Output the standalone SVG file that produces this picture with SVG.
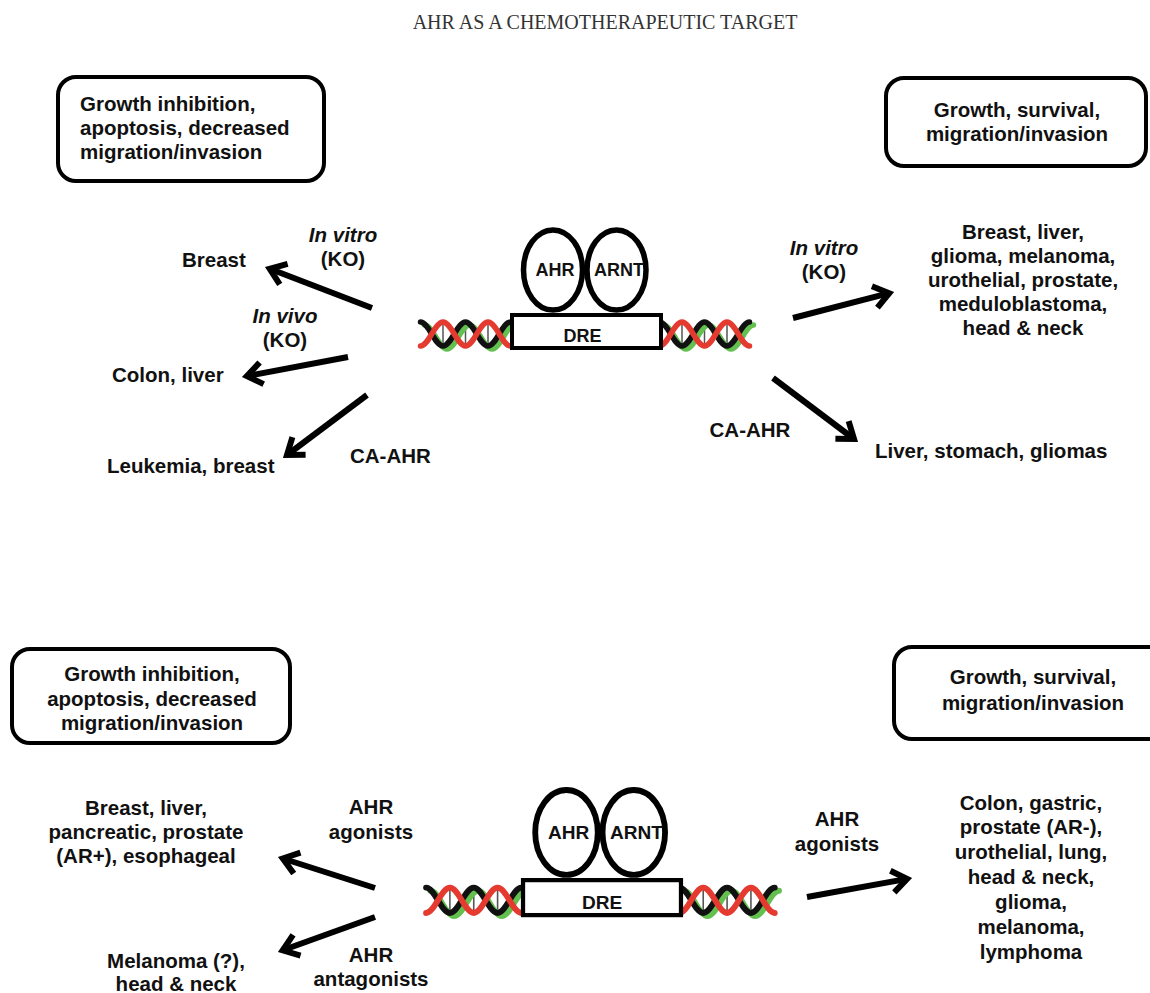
<svg xmlns="http://www.w3.org/2000/svg" xmlns:xlink="http://www.w3.org/1999/xlink" width="1150" height="993" viewBox="0 0 1150 993">
  <style>
    .title{font-family:"Liberation Serif","Times New Roman",serif;font-size:20px;fill:#333;text-anchor:middle}
    .t{font-family:"Liberation Sans",Arial,Helvetica,sans-serif;font-weight:bold;font-size:20.5px;fill:#111}
    .c{text-anchor:middle}
    .i{font-style:italic}
    .box{fill:#fff;stroke:#000;stroke-width:4}
    .prot{fill:#fff;stroke:#000;stroke-width:5.5}
    .dre{fill:#fff;stroke:#000;stroke-width:4}
    .pt{font-family:"Liberation Sans",Arial,Helvetica,sans-serif;font-weight:bold;font-size:18px;fill:#111;text-anchor:middle}
    .arr{stroke:#000;stroke-width:6;fill:none;marker-end:url(#head)}
    .s{fill:none;stroke-width:5.5;stroke-linecap:round}
    .blk{stroke:#111}
    .red{stroke:#e53a2f}
    .grn{stroke:#63c04f}
    .rung{stroke:#555;stroke-width:1.5}
  </style>
  <defs>
    <marker id="head" markerUnits="userSpaceOnUse" markerWidth="44" markerHeight="44" viewBox="-22 -22 44 44" refX="0" refY="0" orient="auto" overflow="visible">
      <path d="M-15,-11 L0,0 L-15,11" fill="none" stroke="#000" stroke-width="6" stroke-linejoin="miter" stroke-miterlimit="10"/>
    </marker>
    <!-- DNA double helix on both sides of the response element, in complex-local coordinates -->
    <g id="helix">
      <g class="rung">
        <line x1="-143.5" y1="11" x2="-143.5" y2="31"/>
        <line x1="-121" y1="11" x2="-121" y2="31"/>
        <line x1="-98.5" y1="11" x2="-98.5" y2="31"/>
        <line x1="95.5" y1="11" x2="95.5" y2="31"/>
        <line x1="118" y1="11" x2="118" y2="31"/>
        <line x1="140.5" y1="11" x2="140.5" y2="31"/>
      </g>
      <g transform="translate(4,3)">
        <path class="s grn" d="M-166,9 C-157.82,9 -151.68,33 -143.5,33 S-129.18,9 -121,9 S-106.68,33 -98.5,33 S-84.18,9 -76,9"/>
        <path class="s grn" d="M73,9 C81.18,9 87.32,33 95.5,33 S109.82,9 118,9 S132.32,33 140.5,33 S154.82,9 163,9"/>
      </g>
      <path class="s blk" d="M-166,9 C-157.82,9 -151.68,33 -143.5,33 S-129.18,9 -121,9 S-106.68,33 -98.5,33 S-84.18,9 -76,9"/>
      <path class="s blk" d="M73,9 C81.18,9 87.32,33 95.5,33 S109.82,9 118,9 S132.32,33 140.5,33 S154.82,9 163,9"/>
      <path class="s red" d="M-166,33 C-157.82,33 -151.68,9 -143.5,9 S-129.18,33 -121,33 S-106.68,9 -98.5,9 S-84.18,33 -76,33"/>
      <path class="s red" d="M73,33 C81.18,33 87.32,9 95.5,9 S109.82,33 118,33 S132.32,9 140.5,9 S154.82,33 163,33"/>
    </g>
  </defs>

  <rect width="1150" height="993" fill="#fff"/>
  <text class="title" x="605" y="29">AHR AS A CHEMOTHERAPEUTIC TARGET</text>

  <!-- Upper panel: AHR knockdown / constitutively active AHR -->
  <g id="top-complex" transform="translate(586.5,313)">
    <use xlink:href="#helix"/>
    <ellipse class="prot" cx="-33.5" cy="-43" rx="29.5" ry="40"/>
    <ellipse class="prot" cx="30" cy="-43" rx="29.5" ry="40"/>
    <rect class="dre" x="-74.5" y="2" width="149" height="33"/>
    <text class="pt" x="-31.5" y="-37">AHR</text>
    <text class="pt" x="32.5" y="-37">ARNT</text>
    <text class="pt" x="-4" y="29">DRE</text>
  </g>

  <g id="top-left-box">
    <rect class="box" x="58" y="77" width="266" height="104" rx="18"/>
    <text class="t" x="80" y="111">Growth inhibition,</text>
    <text class="t" x="80" y="135">apoptosis, decreased</text>
    <text class="t" x="80" y="159">migration/invasion</text>
  </g>
  <g id="top-right-box">
    <rect class="box" x="886" y="78" width="260" height="88" rx="18"/>
    <text class="t c" x="1017" y="117">Growth, survival,</text>
    <text class="t c" x="1017" y="141">migration/invasion</text>
  </g>

  <g id="top-breast"><text class="t" x="182" y="267">Breast</text></g>
  <g id="top-colon"><text class="t" x="112" y="382">Colon, liver</text></g>
  <g id="top-leukemia"><text class="t" x="107" y="473">Leukemia, breast</text></g>
  <g id="top-right-cancers">
    <text class="t c" x="1023" y="239">Breast, liver,</text>
    <text class="t c" x="1023" y="263">glioma, melanoma,</text>
    <text class="t c" x="1023" y="287">urothelial, prostate,</text>
    <text class="t c" x="1023" y="311">meduloblastoma,</text>
    <text class="t c" x="1023" y="335">head &amp; neck</text>
  </g>
  <g id="top-liver"><text class="t" x="875" y="458">Liver, stomach, gliomas</text></g>

  <!-- Lower panel: AHR ligands -->
  <g id="bottom-complex" transform="translate(602,878) scale(1.06)">
    <use xlink:href="#helix"/>
    <ellipse class="prot" cx="-33.5" cy="-43" rx="29.5" ry="40"/>
    <ellipse class="prot" cx="30" cy="-43" rx="29.5" ry="40"/>
    <rect class="dre" x="-74.5" y="2" width="149" height="33"/>
    <text class="pt" x="-31.5" y="-37">AHR</text>
    <text class="pt" x="32.5" y="-37">ARNT</text>
    <text class="pt" x="0" y="29">DRE</text>
  </g>

  <g id="bottom-left-box">
    <rect class="box" x="12" y="649" width="278" height="94" rx="18"/>
    <text class="t c" x="152" y="681">Growth inhibition,</text>
    <text class="t c" x="152" y="706">apoptosis, decreased</text>
    <text class="t c" x="152" y="730">migration/invasion</text>
  </g>
  <g id="bottom-right-box">
    <rect class="box" x="894" y="647" width="300" height="92" rx="18"/>
    <text class="t c" x="1033" y="684">Growth, survival,</text>
    <text class="t c" x="1033" y="710">migration/invasion</text>
  </g>

  <g id="bottom-left-cancers">
    <text class="t c" x="146" y="815">Breast, liver,</text>
    <text class="t c" x="146" y="839">pancreatic, prostate</text>
    <text class="t c" x="146" y="863">(AR+), esophageal</text>
  </g>
  <g id="bottom-melanoma">
    <text class="t c" x="176" y="968">Melanoma (?),</text>
    <text class="t c" x="176" y="991">head &amp; neck</text>
  </g>
  <g id="bottom-right-cancers">
    <text class="t c" x="1031" y="810">Colon, gastric,</text>
    <text class="t c" x="1031" y="834">prostate (AR-),</text>
    <text class="t c" x="1031" y="859">urothelial, lung,</text>
    <text class="t c" x="1031" y="884">head &amp; neck,</text>
    <text class="t c" x="1031" y="909">glioma,</text>
    <text class="t c" x="1031" y="934">melanoma,</text>
    <text class="t c" x="1031" y="959">lymphoma</text>
  </g>

  <!-- Connectors with their labels -->
  <g id="connectors">
    <line class="arr" x1="372" y1="308" x2="269.7" y2="268.8"/>
    <line class="arr" x1="348" y1="357" x2="246.9" y2="376.1"/>
    <line class="arr" x1="367" y1="395" x2="287" y2="455"/>
    <line class="arr" x1="793" y1="318" x2="889.2" y2="293.2"/>
    <line class="arr" x1="773" y1="378" x2="854" y2="439"/>
    <line class="arr" x1="375" y1="888" x2="282.8" y2="858.5"/>
    <line class="arr" x1="375" y1="917" x2="282.7" y2="950.3"/>
    <line class="arr" x1="807" y1="897" x2="907.1" y2="878.9"/>

    <text class="t c i" x="343" y="242">In vitro</text>
    <text class="t c" x="343" y="266">(KO)</text>
    <text class="t c i" x="285" y="323">In vivo</text>
    <text class="t c" x="285" y="347">(KO)</text>
    <text class="t" x="350" y="463">CA-AHR</text>
    <text class="t c i" x="824" y="255">In vitro</text>
    <text class="t c" x="824" y="279">(KO)</text>
    <text class="t c" x="750" y="437">CA-AHR</text>
    <text class="t c" x="371" y="814">AHR</text>
    <text class="t c" x="371" y="839">agonists</text>
    <text class="t c" x="371" y="962">AHR</text>
    <text class="t c" x="371" y="986">antagonists</text>
    <text class="t c" x="837" y="826">AHR</text>
    <text class="t c" x="837" y="851">agonists</text>
  </g>
</svg>
